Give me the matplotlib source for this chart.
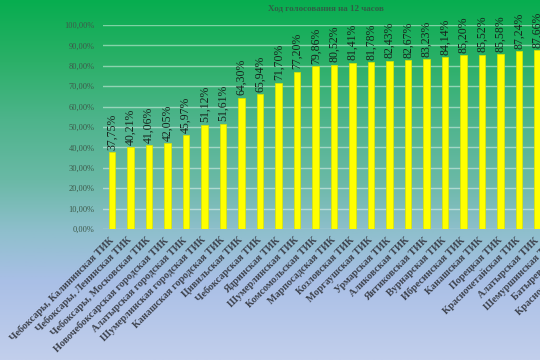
import numpy as np
import matplotlib
matplotlib.use('Agg')
import matplotlib.pyplot as plt
from matplotlib.colors import LinearSegmentedColormap

# territorial commissions (last three are cut off at the right edge of the picture)
districts = [
    'Чебоксары, Калининская ТИК', 'Чебоксары, Ленинская ТИК', 'Чебоксары, Московская ТИК',
    'Новочебоксарская городская ТИК', 'Алатырская городская ТИК', 'Шумерлинская городская ТИК',
    'Канашская городская ТИК', 'Цивильская ТИК', 'Чебоксарская ТИК', 'Ядринская ТИК',
    'Шумерлинская ТИК', 'Комсомольская ТИК', 'Марпосадская ТИК', 'Козловская ТИК',
    'Моргаушская ТИК', 'Урмарская ТИК', 'Аликовская ТИК', 'Янтиковская ТИК',
    'Вурнарская ТИК', 'Ибресинская ТИК', 'Канашская ТИК', 'Порецкая ТИК',
    'Красночетайская ТИК', 'Алатырская ТИК', 'Шемуршинская ТИК', 'Батыревская ТИК',
    'Красноармейская ТИК',
]
# turnout, only the visible bars
turnout = [37.75, 40.21, 41.06, 42.05, 45.97, 51.12, 51.61, 64.30, 65.94, 71.70,
           77.20, 79.86, 80.52, 81.41, 81.78, 82.43, 82.67, 83.23, 84.14, 85.20,
           85.52, 85.58, 87.24, 87.66]
yticks = np.arange(0, 101, 10)

plt.rcParams['font.family'] = ['Liberation Serif', 'DejaVu Serif']

fig = plt.figure(figsize=(5.4, 3.6), dpi=100)

# background gradient green -> light blue
bg = fig.add_axes([0, 0, 1, 1], zorder=-1)
cmap = LinearSegmentedColormap.from_list('bg', [
    (0.0, '#07ad4f'), (0.17, '#2bb068'), (0.33, '#4db48b'), (0.5, '#6ab9a6'),
    (0.64, '#8ebfcc'), (0.78, '#a9bfe6'), (1.0, '#c2cfec')])
grad = np.linspace(0, 1, 256).reshape(-1, 1)
bg.imshow(grad, aspect='auto', cmap=cmap, extent=[0, 1, 0, 1], origin='upper')
bg.axis('off')

ax = fig.add_axes([102.75 / 540, 131 / 360, 27 * 18.5 / 540, 204 / 360])
ax.patch.set_alpha(0)
x = np.arange(len(turnout))
ax.bar(x, turnout, width=0.33, color='#ffff00', edgecolor='#d8e400', linewidth=0.5, zorder=3)

for xi, v in zip(x, turnout):
    ax.text(xi, v + 1.2, f'{v:.2f}%'.replace('.', ','), rotation=90, ha='center', va='bottom',
            fontsize=8.5, color='#17231c', zorder=4)

ax.set_xlim(-0.5, len(districts) - 0.5)
ax.set_ylim(0, 100)
ax.set_yticks(yticks)
ax.set_yticklabels([f'{t:.2f}%'.replace('.', ',') for t in yticks], fontsize=6, color='#3d5a4a')
ax.set_xticks(np.arange(len(districts)))
ax.set_xticklabels(districts, rotation=45, ha='right', va='center', rotation_mode='anchor',
                   fontsize=7.3, fontweight='bold', color='#3e434e')
ax.tick_params(axis='both', length=0)
ax.tick_params(axis='y', pad=6)
ax.tick_params(axis='x', pad=7)
ax.grid(axis='y', color='white', alpha=0.45, linewidth=1, zorder=0)
for s in ax.spines.values():
    s.set_visible(False)

fig.text(326 / 540, 1 - 8 / 360, 'Ход голосования на 12 часов', ha='center', va='center',
         fontsize=6.5, fontweight='bold', color='#2f5f45')

fig.savefig('out.png', dpi=100)
